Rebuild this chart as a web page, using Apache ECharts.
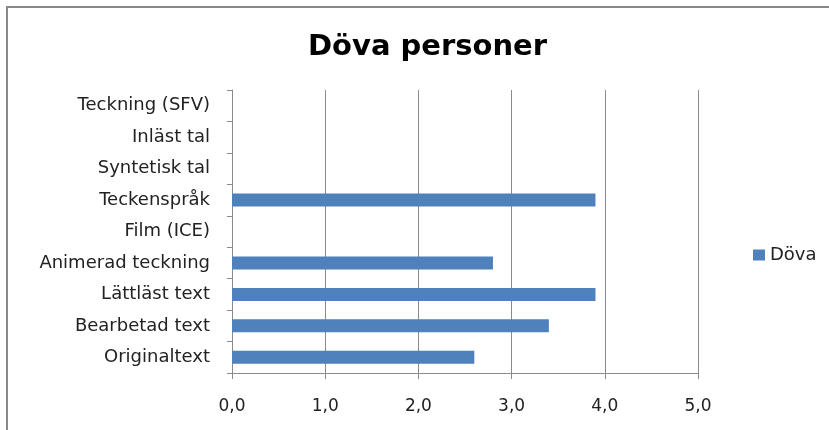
<!DOCTYPE html>
<html>
<head>
<meta charset="utf-8">
<script src="https://cdn.jsdelivr.net/npm/echarts@6/dist/echarts.min.js"></script>
<style>
html,body{margin:0;padding:0;background:#fff;}
#main{width:829px;height:430px;}
</style>
</head>
<body>
<div id="main"></div>
<script>
const categories = ["Originaltext","Bearbetad text","Lättläst text","Animerad teckning","Film (ICE)","Teckenspråk","Syntetisk tal","Inläst tal","Teckning (SFV)"];
const dovaValues = [2.6, 3.4, 3.9, 2.8, 0, 3.9, 0, 0, 0];
const seriesName = "Döva";
const titleText = "Döva personer";

const chart = echarts.init(document.getElementById('main'), null, {renderer:'canvas'});
const gray = '#8a8a8a';
const font = 'DejaVu Sans';
chart.setOption({
  animation:false,
  backgroundColor:'#fff',
  title:{
    text:titleText,
    left:303,
    top:28,
    textStyle:{fontFamily:font,fontWeight:'bold',fontSize:29,color:'#000'}
  },
  graphic:[{
    type:'rect',
    shape:{x:7,y:7,width:900,height:500},
    style:{fill:'none',stroke:'#888',lineWidth:2},
    silent:true
  }],
  legend:{
    show:true,
    orient:'vertical',
    left:748,
    top:241,
    itemWidth:12,
    itemHeight:11,
    itemGap:8,
    icon:'rect',
    textStyle:{fontFamily:font,fontSize:18,color:'#222'},
    data:[seriesName]
  },
  grid:{left:232,right:131,top:90,bottom:57,containLabel:false},
  xAxis:{
    type:'value',
    min:0,max:5,interval:1,
    axisLine:{show:true,lineStyle:{color:gray,width:1}},
    axisTick:{show:true,length:6,lineStyle:{color:gray}},
    splitLine:{show:true,lineStyle:{color:gray,width:1}},
    axisLabel:{
      margin:25,
      fontFamily:font,fontSize:17,color:'#222',
      formatter:function(v){return v.toFixed(1).replace('.',',');}
    }
  },
  yAxis:{
    type:'category',
    data:categories,
    axisLine:{show:true,lineStyle:{color:gray,width:1}},
    axisTick:{show:true,length:5,lineStyle:{color:gray}},
    splitLine:{show:false},
    axisLabel:{margin:22,fontFamily:font,fontSize:18,color:'#222'}
  },
  series:[{
    name:seriesName,
    type:'bar',
    data:dovaValues,
    barWidth:13,
    itemStyle:{color:'#4F81BD'}
  }]
});
</script>
</body>
</html>
